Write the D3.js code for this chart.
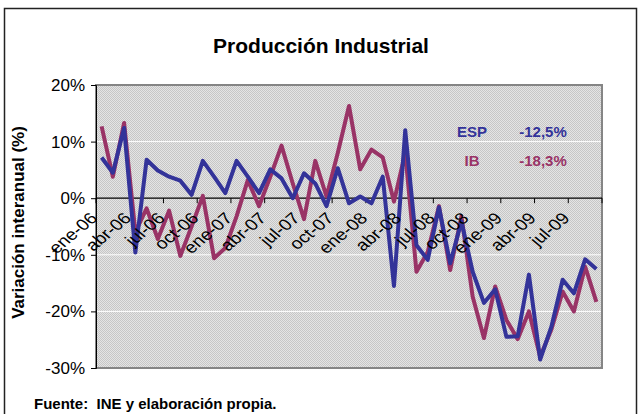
<!DOCTYPE html>
<html>
<head>
<meta charset="utf-8">
<script src="https://cdn.jsdelivr.net/npm/d3@7"></script>
<style>
  body { margin: 0; background: #fff; }
  text { font-family: "Liberation Sans", Arial, sans-serif; }
</style>
</head>
<body>
<svg width="641" height="414"></svg>
<script>
const months = [
	'ene-06','feb-06','mar-06','abr-06','may-06','jun-06','jul-06','ago-06','sep-06','oct-06','nov-06','dic-06',
	'ene-07','feb-07','mar-07','abr-07','may-07','jun-07','jul-07','ago-07','sep-07','oct-07','nov-07','dic-07',
	'ene-08','feb-08','mar-08','abr-08','may-08','jun-08','jul-08','ago-08','sep-08','oct-08','nov-08','dic-08',
	'ene-09','feb-09','mar-09','abr-09','may-09','jun-09','jul-09','ago-09','sep-09'
];

// variación interanual (%), España
const esp = [
	7.2, 4.5, 12.4, -9.6, 6.8, 4.9, 3.8, 3.1, 0.6, 6.6, 3.8, 0.9,
	6.6, 3.8, 0.9, 5.1, 3.5, 0.0, 4.4, 2.6, -1.4, 5.3, -0.9, 0.3,
	-0.9, 3.8, -15.5, 12.0, -8.3, -10.9, -1.6, -11.5, -4.1, -13.0, -18.5, -16.1,
	-24.5, -24.4, -13.5, -28.5, -22.7, -14.4, -16.8, -10.8, -12.5
];

// variación interanual (%), Illes Balears
const ib = [
	12.7, 3.8, 13.3, -6.0, -1.8, -7.2, -2.2, -10.2, -5.0, 0.4, -10.6, -8.8,
	-3.2, 3.2, -1.4, 3.8, 9.3, 2.6, -3.7, 6.6, 0.3, 8.0, 16.3, 5.1,
	8.6, 7.2, -0.6, 8.0, -13.0, -9.5, -1.4, -12.7, -3.2, -17.4, -24.7, -15.6,
	-21.5, -24.9, -20.0, -28.0, -23.2, -16.5, -20.0, -12.1, -18.3
];

const tickLabels = ['ene-06','abr-06','jul-06','oct-06','ene-07','abr-07','jul-07','oct-07',
	'ene-08','abr-08','jul-08','oct-08','ene-09','abr-09','jul-09'];
const yTicks = [20, 10, 0, -10, -20, -30];
const legendRows = [
	{ name: 'ESP', value: '-12,5%', color: '#333399' },
	{ name: 'IB', value: '-18,3%', color: '#993366' }
];

const svg = d3.select('svg');
const plot = { left: 96, right: 602, top: 85, bottom: 368 };

const x = d3.scaleBand().domain(months).range([plot.left, plot.right]);
const y = d3.scaleLinear().domain([-30, 20]).range([plot.bottom, plot.top]);
const cx = (m) => x(m) + x.bandwidth() / 2;

// outer frame
svg.append('rect')
	.attr('x', 4.5).attr('y', 8.5)
	.attr('width', 632).attr('height', 430)
	.attr('fill', '#fff')
	.attr('stroke', '#222')
	.attr('stroke-width', 1.5);

// dotted background like Excel's pattern fill
const defs = svg.append('defs');
const pat = defs.append('pattern')
	.attr('id', 'dots')
	.attr('width', 2).attr('height', 2)
	.attr('patternUnits', 'userSpaceOnUse');
pat.append('rect').attr('width', 2).attr('height', 2).attr('fill', '#e4e4e4');
pat.append('rect').attr('width', 1).attr('height', 1).attr('fill', '#c6c6c6');
pat.append('rect').attr('x', 1).attr('y', 1).attr('width', 1).attr('height', 1).attr('fill', '#c6c6c6');

svg.append('rect')
	.attr('x', plot.left).attr('y', plot.top)
	.attr('width', plot.right - plot.left)
	.attr('height', plot.bottom - plot.top)
	.attr('fill', 'url(#dots)');

// gridlines
svg.append('g')
	.selectAll('line')
	.data(yTicks.filter((d) => d !== 0 && d !== 20 && d !== -30))
	.enter()
	.append('line')
	.attr('x1', plot.left).attr('x2', plot.right)
	.attr('y1', (d) => y(d)).attr('y2', (d) => y(d))
	.attr('stroke', '#fff')
	.attr('stroke-width', 1);

// plot border
svg.append('rect')
	.attr('x', plot.left).attr('y', plot.top)
	.attr('width', plot.right - plot.left)
	.attr('height', plot.bottom - plot.top)
	.attr('fill', 'none')
	.attr('stroke', '#858585')
	.attr('stroke-width', 2);

// y axis
const yAxis = svg.append('g')
	.attr('transform', `translate(${plot.left},0)`)
	.call(d3.axisLeft(y).tickValues(yTicks).tickSize(5).tickPadding(6).tickFormat((d) => d + '%'));
yAxis.attr('font-family', null);
yAxis.select('.domain').attr('stroke', '#000');
yAxis.selectAll('text')
	.attr('font-size', 17)
	.attr('fill', '#000');

// x axis through zero, ticks every 3 months between categories
const tickPos = d3.range(0, months.length + 1, 3).map((i) => plot.left + i * x.bandwidth());
const xAxis = svg.append('g').attr('transform', `translate(0,${y(0)})`);
xAxis.append('line')
	.attr('x1', plot.left).attr('x2', plot.right)
	.attr('stroke', '#000').attr('stroke-width', 1.2);
xAxis.selectAll('line.tick')
	.data(tickPos)
	.enter()
	.append('line')
	.attr('class', 'tick')
	.attr('x1', (d) => d).attr('x2', (d) => d)
	.attr('y1', 0).attr('y2', 5)
	.attr('stroke', '#000');

// series lines
const line = d3.line()
	.x((d) => cx(d.m))
	.y((d) => y(d.v));

const series = [
	{ values: ib, color: '#993366' },
	{ values: esp, color: '#333399' }
];
svg.append('g')
	.selectAll('path')
	.data(series)
	.enter()
	.append('path')
	.attr('d', (s) => line(s.values.map((v, i) => ({ m: months[i], v }))))
	.attr('fill', 'none')
	.attr('stroke', (s) => s.color)
	.attr('stroke-width', 4)
	.attr('stroke-linejoin', 'round');

// rotated category labels (slightly stretched, as in the source image)
svg.append('g')
	.selectAll('text')
	.data(tickLabels)
	.enter()
	.append('text')
	.attr('transform', (d) => `translate(${cx(d) - 3},${y(0) + 21}) scale(1.2,1) rotate(-45)`)
	.attr('text-anchor', 'end')
	.attr('font-size', 16)
	.attr('fill', '#000')
	.text((d) => d);

// title
svg.append('text')
	.attr('x', 321).attr('y', 53)
	.attr('text-anchor', 'middle')
	.attr('font-size', 21)
	.attr('font-weight', 'bold')
	.text('Producción Industrial');

// y axis title
svg.append('text')
	.attr('transform', `translate(24,${(plot.top + plot.bottom) / 2 - 4}) rotate(-90)`)
	.attr('text-anchor', 'middle')
	.attr('font-size', 17)
	.attr('font-weight', 'bold')
	.text('Variación interanual (%)');

// legend with last values
const leg = svg.append('g')
	.selectAll('g')
	.data(legendRows)
	.enter()
	.append('g')
	.attr('transform', (d, i) => `translate(0,${137 + i * 29})`);
leg.append('text')
	.attr('x', 472).attr('text-anchor', 'middle')
	.attr('font-size', 15).attr('font-weight', 'bold')
	.attr('fill', (d) => d.color)
	.text((d) => d.name);
leg.append('text')
	.attr('x', 543).attr('text-anchor', 'middle')
	.attr('font-size', 15).attr('font-weight', 'bold')
	.attr('fill', (d) => d.color)
	.text((d) => d.value);

// source
svg.append('text')
	.attr('x', 34).attr('y', 409)
	.attr('font-size', 15)
	.attr('font-weight', 'bold')
	.attr('xml:space', 'preserve')
	.text('Fuente:  INE y elaboración propia.');
</script>
</body>
</html>
